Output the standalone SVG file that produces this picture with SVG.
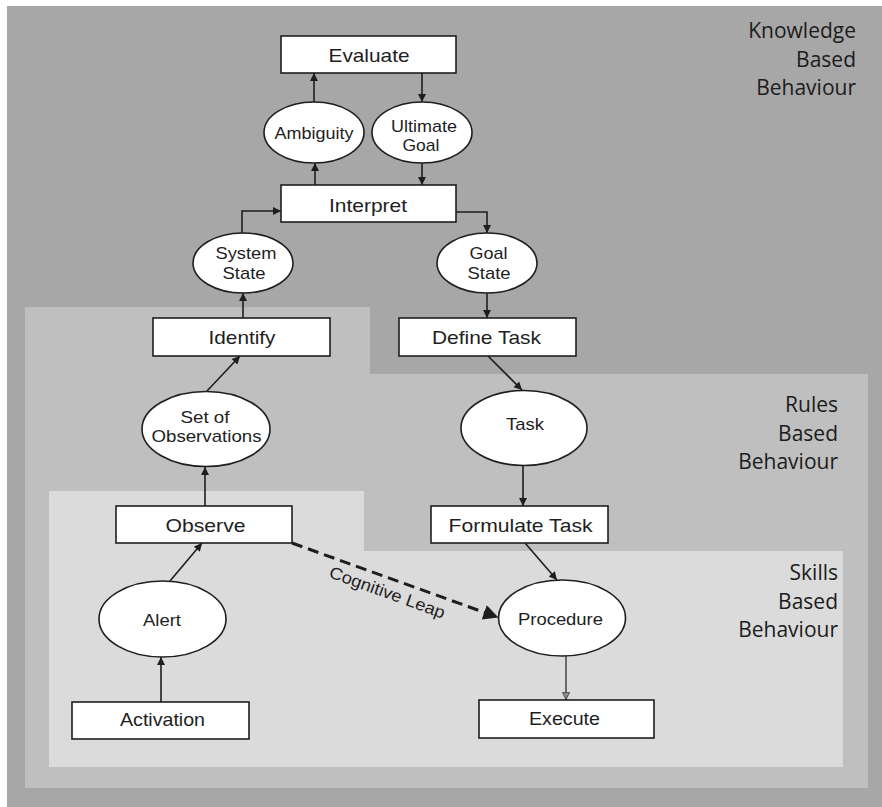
<svg xmlns="http://www.w3.org/2000/svg" width="882" height="807" viewBox="0 0 882 807">
  <defs>
    <style>
      .box { fill: #ffffff; stroke: #1e1e1e; stroke-width: 1.6; }
      .oval { fill: #ffffff; stroke: #1e1e1e; stroke-width: 1.6; }
      .lbl { font-family: "Liberation Sans", Arial, sans-serif; fill: #1e1e1e; text-anchor: middle; }
      .big { font-size: 19px; }
      .small { font-size: 17px; }
      .leap-lbl { font-family: "Liberation Sans", Arial, sans-serif; font-size: 17px; fill: #1e1e1e; text-anchor: start; }
      .band { font-family: "Open Sans", "DejaVu Sans", sans-serif; font-size: 21px; fill: #1c1c1c; text-anchor: end; }
      .edge { fill: none; stroke: #1e1e1e; stroke-width: 1.6; marker-end: url(#tip); }
      .leap { fill: none; stroke: #1e1e1e; stroke-width: 3; stroke-dasharray: 11 6; marker-end: url(#bigtip); }
    </style>
    <marker id="tip" viewBox="0 0 10 10" refX="10" refY="5" markerUnits="userSpaceOnUse" markerWidth="9" markerHeight="8" orient="auto">
      <path d="M0,0 L10,5 L0,10 Z" fill="#1e1e1e"/>
    </marker>
    <marker id="tipLight" viewBox="0 0 10 10" refX="10" refY="5" markerUnits="userSpaceOnUse" markerWidth="9" markerHeight="8" orient="auto">
      <path d="M0.5,0.5 L9.5,5 L0.5,9.5 Z" fill="#8a8a8a" stroke="#3a3a3a" stroke-width="1"/>
    </marker>
    <marker id="bigtip" viewBox="0 0 10 10" refX="9" refY="5" markerUnits="userSpaceOnUse" markerWidth="21" markerHeight="15" orient="auto">
      <path d="M0,0 L10,5 L0,10 Z" fill="#1e1e1e"/>
    </marker>
  </defs>

  <!-- page and behaviour bands -->
  <rect x="0" y="0" width="882" height="807" fill="#ffffff"/>
  <g id="bands">
    <rect id="band-knowledge" x="7" y="6" width="875" height="801" fill="#a7a7a7"/>
    <path id="band-rules" d="M25,307 H370 V374 H868 V788 H25 Z" fill="#bfbfbf"/>
    <path id="band-skills" d="M49,491 H364 V551 H843 V767 H49 Z" fill="#dbdbdb"/>
  </g>

  <g id="band-labels">
    <text class="band" x="856" y="38">Knowledge</text>
    <text class="band" x="856" y="67">Based</text>
    <text class="band" x="856" y="95">Behaviour</text>
    <text class="band" x="838" y="412">Rules</text>
    <text class="band" x="838" y="441">Based</text>
    <text class="band" x="838" y="469">Behaviour</text>
    <text class="band" x="838" y="580">Skills</text>
    <text class="band" x="838" y="609">Based</text>
    <text class="band" x="838" y="637">Behaviour</text>
  </g>

  <!-- connectors -->
  <g id="connectors">
    <path class="edge" d="M314,102 V73"/>
    <path class="edge" d="M422,73 V102"/>
    <path class="edge" d="M315,185 V163"/>
    <path class="edge" d="M422,163 V185"/>
    <path class="edge" d="M242,233 V211 H281"/>
    <path class="edge" d="M456,212 H487 V233"/>
    <path class="edge" d="M243,318 V293"/>
    <path class="edge" d="M487,293 V318"/>
    <path class="edge" d="M207,391 L240,356"/>
    <path class="edge" d="M488,356 L522,390"/>
    <path class="edge" d="M205,506 V467"/>
    <path class="edge" d="M523,465 V506"/>
    <path class="edge" d="M170,581 L202,543"/>
    <path class="edge" d="M525,543 L557,580"/>
    <path class="edge" d="M161,702 V657"/>
    <path d="M566,656 V700" fill="none" stroke="#3a3a3a" stroke-width="1.4" marker-end="url(#tipLight)"/>
    <path class="leap" d="M292,543 L497,617"/>
    <text class="leap-lbl" x="0" y="0" textLength="122" lengthAdjust="spacingAndGlyphs" transform="translate(328,577) rotate(20)">Cognitive Leap</text>
  </g>

  <!-- knowledge level -->
  <g id="evaluate">
    <rect class="box" x="281" y="36" width="175" height="37"/>
    <text class="lbl big" x="369" y="62" textLength="81" lengthAdjust="spacingAndGlyphs">Evaluate</text>
  </g>
  <g id="ambiguity">
    <ellipse class="oval" cx="314" cy="132.5" rx="50" ry="30.5"/>
    <text class="lbl small" x="314" y="139" textLength="79" lengthAdjust="spacingAndGlyphs">Ambiguity</text>
  </g>
  <g id="ultimate-goal">
    <ellipse class="oval" cx="422" cy="132.5" rx="50" ry="30.5"/>
    <text class="lbl small" x="424" y="131.5" textLength="66" lengthAdjust="spacingAndGlyphs">Ultimate</text>
    <text class="lbl small" x="421" y="151" textLength="37" lengthAdjust="spacingAndGlyphs">Goal</text>
  </g>
  <g id="interpret">
    <rect class="box" x="281" y="185" width="175" height="37"/>
    <text class="lbl big" x="368" y="212" textLength="78" lengthAdjust="spacingAndGlyphs">Interpret</text>
  </g>
  <g id="system-state">
    <ellipse class="oval" cx="243" cy="263" rx="50" ry="30"/>
    <text class="lbl small" x="246" y="259" textLength="61" lengthAdjust="spacingAndGlyphs">System</text>
    <text class="lbl small" x="244" y="279" textLength="43" lengthAdjust="spacingAndGlyphs">State</text>
  </g>
  <g id="goal-state">
    <ellipse class="oval" cx="487" cy="263" rx="50" ry="30"/>
    <text class="lbl small" x="488.5" y="259" textLength="38" lengthAdjust="spacingAndGlyphs">Goal</text>
    <text class="lbl small" x="489" y="279" textLength="43" lengthAdjust="spacingAndGlyphs">State</text>
  </g>

  <!-- rules level -->
  <g id="identify">
    <rect class="box" x="153" y="318" width="177" height="38"/>
    <text class="lbl big" x="242" y="344" textLength="67" lengthAdjust="spacingAndGlyphs">Identify</text>
  </g>
  <g id="define-task">
    <rect class="box" x="399" y="318" width="177" height="38"/>
    <text class="lbl big" x="486.5" y="344" textLength="109" lengthAdjust="spacingAndGlyphs">Define Task</text>
  </g>
  <g id="set-of-observations">
    <ellipse class="oval" cx="206" cy="429" rx="64" ry="37.5"/>
    <text class="lbl small" x="205" y="423" textLength="49" lengthAdjust="spacingAndGlyphs">Set of</text>
    <text class="lbl small" x="206.5" y="442" textLength="110" lengthAdjust="spacingAndGlyphs">Observations</text>
  </g>
  <g id="task">
    <ellipse class="oval" cx="524" cy="428" rx="63" ry="37.5"/>
    <text class="lbl small" x="525" y="430" textLength="38" lengthAdjust="spacingAndGlyphs">Task</text>
  </g>
  <g id="observe">
    <rect class="box" x="116" y="506" width="176" height="37"/>
    <text class="lbl big" x="205.5" y="531.5" textLength="80" lengthAdjust="spacingAndGlyphs">Observe</text>
  </g>
  <g id="formulate-task">
    <rect class="box" x="431" y="506" width="177" height="37"/>
    <text class="lbl big" x="520.5" y="531.5" textLength="144" lengthAdjust="spacingAndGlyphs">Formulate Task</text>
  </g>

  <!-- skills level -->
  <g id="alert">
    <ellipse class="oval" cx="162.5" cy="619" rx="63.5" ry="38"/>
    <text class="lbl small" x="162" y="625.5" textLength="38" lengthAdjust="spacingAndGlyphs">Alert</text>
  </g>
  <g id="procedure">
    <ellipse class="oval" cx="562" cy="618" rx="63.5" ry="38"/>
    <text class="lbl small" x="560.5" y="625" textLength="85" lengthAdjust="spacingAndGlyphs">Procedure</text>
  </g>
  <g id="activation">
    <rect class="box" x="72" y="702" width="177" height="37"/>
    <text class="lbl big" x="162.5" y="725.5" textLength="85" lengthAdjust="spacingAndGlyphs">Activation</text>
  </g>
  <g id="execute">
    <rect class="box" x="479" y="700" width="175" height="38"/>
    <text class="lbl big" x="564.5" y="725" textLength="71" lengthAdjust="spacingAndGlyphs">Execute</text>
  </g>
</svg>
